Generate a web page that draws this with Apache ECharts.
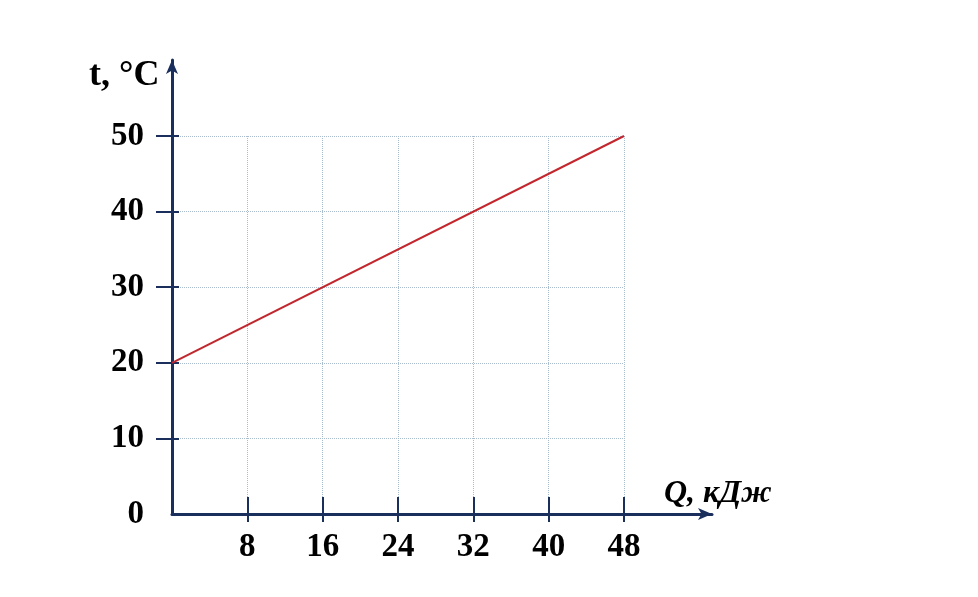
<!DOCTYPE html>
<html>
<head>
<meta charset="utf-8">
<script src="https://cdn.jsdelivr.net/npm/echarts@6/dist/echarts.min.js"></script>
<style>html,body{margin:0;padding:0;background:#fff;}#c{width:978px;height:597px;}</style>
</head>
<body>
<div id="c"></div>
<script>
// Data
const heatQ = [0, 48];          // Q, кДж
const temperature = [20, 50];   // t, °C
const xTicks = [0, 8, 16, 24, 32, 40, 48];
const yTicks = [0, 10, 20, 30, 40, 50];
const xTitle = 'Q, кДж';
const yTitle = 't, °C';

const axisColor = '#1a2f5c';
const serif = '"Liberation Serif", "Times New Roman", serif';
const gridLine = { show: true, lineStyle: { color: '#a9bccd', type: 'dotted', width: 1 } };

const xMin = xTicks[0], xMax = xTicks[xTicks.length - 1], xStep = xTicks[1] - xTicks[0];
const yMin = yTicks[0], yMax = yTicks[yTicks.length - 1], yStep = yTicks[1] - yTicks[0];
const xTickMarks = xTicks.filter(v => v !== 0);
const yTickMarks = yTicks.filter(v => v !== 0);

const chart = echarts.init(document.getElementById('c'));
chart.setOption({
  backgroundColor: '#fff',
  animation: false,
  title: [
    { text: yTitle, left: 84, top: 53, textStyle: { fontFamily: serif, fontWeight: 'bold', fontSize: 36, color: '#000' } },
    { text: xTitle, left: 659, top: 473, textStyle: { fontFamily: serif, fontWeight: 'bold', fontStyle: 'italic', fontSize: 32, color: '#000' } }
  ],
  grid: [
    { left: 172, right: 354, top: 136, bottom: 83 },
    { left: 172, right: 266, top: 60, bottom: 83 }
  ],
  xAxis: [
    { type: 'value', gridIndex: 0, position: 'bottom', min: xMin, max: xMax, interval: xStep,
      axisLine: { show: false },
      axisTick: { show: true, inside: false, length: 8, customValues: xTickMarks, lineStyle: { color: axisColor, width: 2 } },
      axisLabel: { margin: 17, fontFamily: serif, fontWeight: 'bold', fontSize: 33, color: '#000', customValues: xTickMarks },
      splitLine: gridLine },
    { type: 'value', gridIndex: 0, position: 'bottom', min: xMin, max: xMax, interval: xStep,
      axisLine: { show: false },
      axisTick: { show: true, inside: true, length: 17, customValues: xTickMarks, lineStyle: { color: axisColor, width: 2 } },
      axisLabel: { show: false }, splitLine: { show: false } },
    { type: 'value', gridIndex: 1, position: 'bottom', min: 0, max: 1,
      axisLine: { show: true, symbol: ['none', 'arrow'], symbolSize: [9, 14], lineStyle: { color: axisColor, width: 3 } },
      axisTick: { show: false }, axisLabel: { show: false }, splitLine: { show: false } }
  ],
  yAxis: [
    { type: 'value', gridIndex: 0, position: 'left', min: yMin, max: yMax, interval: yStep,
      axisLine: { show: false },
      axisTick: { show: true, inside: false, length: 16, customValues: yTickMarks, lineStyle: { color: axisColor, width: 2 } },
      axisLabel: { margin: 28, fontFamily: serif, fontWeight: 'bold', fontSize: 33, color: '#000' },
      splitLine: gridLine },
    { type: 'value', gridIndex: 0, position: 'left', min: yMin, max: yMax, interval: yStep,
      axisLine: { show: false },
      axisTick: { show: true, inside: true, length: 7, customValues: yTickMarks, lineStyle: { color: axisColor, width: 2 } },
      axisLabel: { show: false }, splitLine: { show: false } },
    { type: 'value', gridIndex: 1, position: 'left', min: 0, max: 1,
      axisLine: { show: true, symbol: ['none', 'arrow'], symbolSize: [9, 14], lineStyle: { color: axisColor, width: 3 } },
      axisTick: { show: false }, axisLabel: { show: false }, splitLine: { show: false } }
  ],
  series: [
    { type: 'line', xAxisIndex: 0, yAxisIndex: 0,
      data: heatQ.map((q, i) => [q, temperature[i]]),
      showSymbol: false, symbol: 'none',
      lineStyle: { color: '#c1272d', width: 2 }, z: 5 }
  ]
});
</script>
</body>
</html>
